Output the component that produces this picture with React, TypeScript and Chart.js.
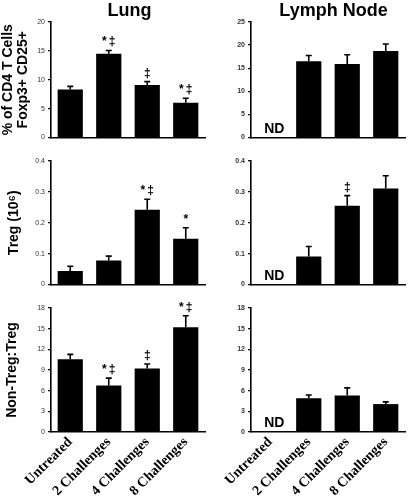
import React, { useEffect, useRef } from 'react';
import { Chart, registerables } from 'chart.js';

Chart.register(...registerables);

const SANS = '"Liberation Sans", Arial, Helvetica, sans-serif';
const SERIF = '"Liberation Serif", "Times New Roman", Times, serif';

const categories = ['Untreated', '2 Challenges', '4 Challenges', '8 Challenges'];

// Row 1: % of CD4 T cells Foxp3+ CD25+
const lungPct = [8.3, 14.5, 9.1, 6.0];
const lungPctErr = [0.55, 0.57, 0.57, 0.8];
const lungPctMarks = ['', '*‡', '‡', '*‡'];
const lymphPct = [null, 16.5, 15.9, 18.7];
const lymphPctErr = [0, 1.25, 2.0, 1.55];
const lymphPctMarks = ['', '', '', ''];

// Row 2: Treg (10^6)
const lungTreg = [0.044, 0.078, 0.242, 0.148];
const lungTregErr = [0.015, 0.014, 0.034, 0.036];
const lungTregMarks = ['', '', '*‡', '*'];
const lymphTreg = [null, 0.091, 0.255, 0.311];
const lymphTregErr = [0, 0.032, 0.033, 0.041];
const lymphTregMarks = ['', '', '‡', ''];

// Row 3: Non-Treg:Treg
const lungRatio = [10.55, 6.75, 9.2, 15.2];
const lungRatioErr = [0.72, 1.07, 0.68, 1.68];
const lungRatioMarks = ['', '*‡', '‡', '*‡'];
const lymphRatio = [null, 4.9, 5.3, 4.05];
const lymphRatioErr = [0, 0.48, 1.1, 0.33];
const lymphRatioMarks = ['', '', '', ''];

const ndLabel = 'ND';

const errorBarPlugin = {
  id: 'errbars',
  afterDatasetsDraw(chart: any, _args: any, opts: any) {
    const ctx = chart.ctx;
    const ys = chart.scales.y;
    const xs = chart.scales.x;
    const meta = chart.getDatasetMeta(0);
    const values = chart.data.datasets[0].data;
    ctx.save();
    ctx.strokeStyle = '#000';
    ctx.fillStyle = '#000';
    ctx.lineWidth = 1.6;
    meta.data.forEach((bar: any, i: number) => {
      const v = values[i];
      if (v === null || v === undefined) return;
      const top = ys.getPixelForValue(v + opts.err[i]);
      ctx.beginPath();
      ctx.moveTo(bar.x, bar.y);
      ctx.lineTo(bar.x, top);
      ctx.moveTo(bar.x - 3, top);
      ctx.lineTo(bar.x + 3, top);
      ctx.stroke();
      if (opts.marks[i]) {
        ctx.font = 'bold 12px ' + SANS;
        ctx.textAlign = 'center';
        ctx.textBaseline = 'alphabetic';
        const chars = Array.from(opts.marks[i] as string);
        const gap = 2;
        const widths = chars.map((c) => ctx.measureText(c).width);
        const total = widths.reduce((a, b) => a + b, 0) + gap * (chars.length - 1);
        let cx = bar.x - total / 2;
        chars.forEach((c, k) => {
          ctx.fillText(c, cx + widths[k] / 2, top - 5);
          cx += widths[k] + gap;
        });
      }
    });
    if (opts.nd) {
      ctx.font = 'bold 14px ' + SANS;
      ctx.textAlign = 'center';
      ctx.textBaseline = 'alphabetic';
      ctx.fillText(ndLabel, xs.getPixelForValue(0) + 4, chart.chartArea.bottom - 5);
    }
    if (opts.title) {
      const ca = chart.chartArea;
      ctx.font = 'bold 18px ' + SANS;
      ctx.textAlign = 'center';
      ctx.textBaseline = 'alphabetic';
      ctx.fillText(opts.title, (ca.left + ca.right) / 2 + opts.titleDx, 15.5);
    }
    ctx.restore();
  },
};

type PanelProps = {
  left: number;
  top: number;
  w: number;
  h: number;
  values: (number | null)[];
  err: number[];
  marks: string[];
  nd: boolean;
  yMax: number;
  yStep: number;
  yW: number;
  xH: number;
  pad: { top: number; bottom: number; left: number; right: number };
  yTitle?: string | string[];
  yTitlePad?: number;
  showX: boolean;
  boldTicks: boolean;
  title?: string;
  titleDx?: number;
};

function Panel(p: PanelProps) {
  const ref = useRef<HTMLCanvasElement | null>(null);
  useEffect(() => {
    if (!ref.current) return;
    const chart = new Chart(ref.current, {
      type: 'bar',
      data: {
        labels: categories,
        datasets: [
          {
            data: p.values as any,
            backgroundColor: '#000',
            borderWidth: 0,
            categoryPercentage: 1,
            barPercentage: 0.655,
          },
        ],
      },
      options: {
        responsive: false,
        animation: false,
        layout: { padding: p.pad },
        plugins: {
          legend: { display: false },
          tooltip: { enabled: false },
          title: { display: false },
          errbars: { err: p.err, marks: p.marks, nd: p.nd, title: p.title, titleDx: p.titleDx || 0 },
        } as any,
        scales: {
          x: {
            offset: true,
            grid: { display: false, drawTicks: false },
            border: { display: true, color: '#000', width: 1.6 },
            ticks: p.showX
              ? {
                  display: true,
                  autoSkip: false,
                  maxRotation: 45,
                  minRotation: 45,
                  padding: 2,
                  color: '#000',
                  font: { family: SERIF, size: 14, weight: 'bold' },
                }
              : { display: false },
            afterFit: (s: any) => {
              s.height = p.xH;
            },
          },
          y: {
            min: 0,
            max: p.yMax,
            ticks: {
              stepSize: p.yStep,
              color: '#333',
              padding: 3,
              font: { family: SANS, size: 7, weight: p.boldTicks ? 'bold' : 'normal' },
            },
            grid: {
              display: true,
              drawOnChartArea: false,
              drawTicks: true,
              tickLength: 3,
              color: '#000',
              lineWidth: 1.2,
            },
            border: { display: true, color: '#000', width: 1.6 },
            title: p.yTitle
              ? {
                  display: true,
                  text: p.yTitle,
                  color: '#000',
                  font: { family: SANS, size: 14, weight: 'bold', lineHeight: 1.1 },
                  padding: { top: p.yTitlePad || 0, bottom: 0 },
                }
              : { display: false },
            afterFit: (s: any) => {
              s.width = p.yW;
            },
          },
        },
      } as any,
      plugins: [errorBarPlugin],
    });
    return () => chart.destroy();
  }, []);
  return (
    <div style={{ position: 'absolute', left: p.left, top: p.top, width: p.w, height: p.h }}>
      <canvas ref={ref} width={p.w} height={p.h} style={{ display: 'block' }} />
    </div>
  );
}

const LEFT = { left: 0, w: 210, yW: 51, padR: 5 };
const RIGHT = { left: 210, w: 206, yW: 41, padR: 11 };
const ROW1 = { top: 0, h: 150, padT: 22, padB: 12.5, xH: 0 };
const ROW2 = { top: 150, h: 145, padT: 11, padB: 10.5, xH: 0 };
const ROW3 = { top: 295, h: 209, padT: 13, padB: 0, xH: 72 };

function geo(col: typeof LEFT, row: typeof ROW1) {
  return {
    left: col.left,
    top: row.top,
    w: col.w,
    h: row.h,
    yW: col.yW,
    xH: row.xH,
    pad: { top: row.padT, bottom: row.padB, left: 0, right: col.padR },
  };
}

export default function App() {
  return (
    <div style={{ position: 'absolute', left: 0, top: 0, width: 416, height: 504, background: '#fff', overflow: 'hidden' }}>
      <Panel
        {...geo(LEFT, ROW1)}
        values={lungPct}
        err={lungPctErr}
        marks={lungPctMarks}
        nd={false}
        yMax={20}
        yStep={5}
        yTitle={['% of CD4 T Cells', 'Foxp3+ CD25+']}
        yTitlePad={0}
        showX={false}
        boldTicks={false}
        title="Lung"
        titleDx={1.5}
      />
      <Panel
        {...geo(RIGHT, ROW1)}
        values={lymphPct}
        err={lymphPctErr}
        marks={lymphPctMarks}
        nd={true}
        yMax={25}
        yStep={5}
        showX={false}
        boldTicks={true}
        title="Lymph Node"
        titleDx={5.5}
      />
      <Panel
        {...geo(LEFT, ROW2)}
        values={lungTreg}
        err={lungTregErr}
        marks={lungTregMarks}
        nd={false}
        yMax={0.4}
        yStep={0.1}
        yTitle="Treg (10⁶)"
        yTitlePad={6}
        showX={false}
        boldTicks={false}
      />
      <Panel
        {...geo(RIGHT, ROW2)}
        values={lymphTreg}
        err={lymphTregErr}
        marks={lymphTregMarks}
        nd={true}
        yMax={0.4}
        yStep={0.1}
        showX={false}
        boldTicks={true}
      />
      <Panel
        {...geo(LEFT, ROW3)}
        values={lungRatio}
        err={lungRatioErr}
        marks={lungRatioMarks}
        nd={false}
        yMax={18}
        yStep={3}
        yTitle="Non-Treg:Treg"
        yTitlePad={4}
        showX={true}
        boldTicks={false}
      />
      <Panel
        {...geo(RIGHT, ROW3)}
        values={lymphRatio}
        err={lymphRatioErr}
        marks={lymphRatioMarks}
        nd={true}
        yMax={18}
        yStep={3}
        showX={true}
        boldTicks={true}
      />
    </div>
  );
}
